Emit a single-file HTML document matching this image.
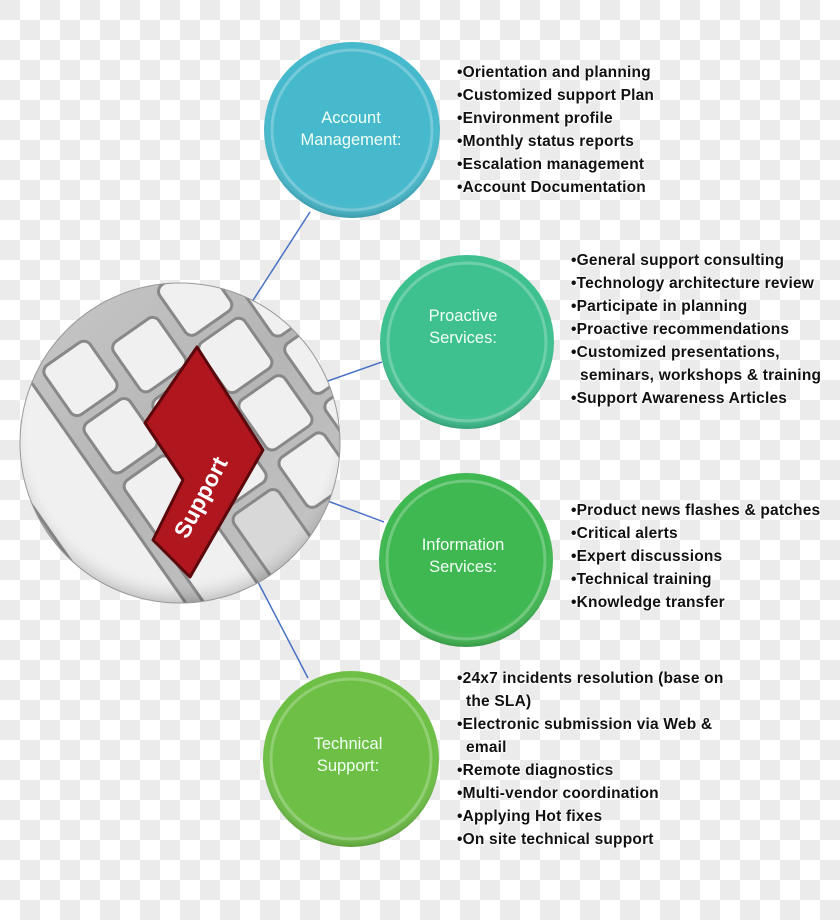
<!DOCTYPE html>
<html><head><meta charset="utf-8"><style>
html,body{margin:0;padding:0}
body{width:840px;height:920px;position:relative;overflow:hidden;
background-color:#fff;
background-image:linear-gradient(45deg,#ebebeb 25%,transparent 25%,transparent 75%,#ebebeb 75%),linear-gradient(45deg,#ebebeb 25%,transparent 25%,transparent 75%,#ebebeb 75%);
background-size:40px 40px;background-position:20px 0,0 20px;
font-family:"Liberation Sans",sans-serif}
.list{position:absolute;font-weight:bold;font-size:15.5px;line-height:23px;color:#111;letter-spacing:0.2px;
text-shadow:0 0 2px #fff,0 0 2px #fff,1px 1px 1px #fff}
.list div{white-space:nowrap}
.lab{position:absolute;color:#f2fff6;font-size:16.5px;line-height:22px;text-align:center;width:180px}
</style></head><body>
<svg width="840" height="920" style="position:absolute;left:0;top:0">
<defs>
<radialGradient id="sh" cx="50%" cy="45%" r="55%"><stop offset="0.85" stop-color="#fff" stop-opacity="0"/><stop offset="1" stop-color="#000" stop-opacity="0.18"/></radialGradient>
<linearGradient id="kb" x1="0" y1="0" x2="1" y2="1"><stop offset="0" stop-color="#c8c8c8"/><stop offset="0.5" stop-color="#b5b5b5"/><stop offset="1" stop-color="#c8c8c8"/></linearGradient>
<clipPath id="cc"><circle cx="180" cy="443" r="160"/></clipPath>
</defs>
<g stroke="#4a72c4" stroke-width="1.5">
<line x1="250" y1="305" x2="310" y2="212"/>
<line x1="325" y1="382" x2="382" y2="362"/>
<line x1="325" y1="500" x2="384" y2="522"/>
<line x1="258" y1="582" x2="308" y2="678"/>
</g>
<circle cx="180" cy="443" r="160" fill="url(#kb)"/>
<g clip-path="url(#cc)">
<g transform="rotate(55 180 443)">
<g fill="#f0f0f0" stroke="#888" stroke-width="3">
<rect x="20" y="250" width="60" height="55" rx="8"/>
<rect x="90" y="250" width="60" height="55" rx="8"/>
<rect x="160" y="250" width="60" height="55" rx="8"/>
<rect x="230" y="250" width="60" height="55" rx="8"/>
<rect x="300" y="250" width="60" height="55" rx="8"/>
<rect x="40" y="320" width="60" height="55" rx="8"/>
<rect x="110" y="320" width="60" height="55" rx="8"/>
<rect x="180" y="320" width="60" height="55" rx="8"/>
<rect x="250" y="320" width="60" height="55" rx="8"/>
<rect x="60" y="390" width="60" height="55" rx="8"/>
<rect x="130" y="390" width="60" height="55" rx="8"/>
<rect x="200" y="390" width="60" height="55" rx="8"/>
<rect x="40" y="460" width="60" height="55" rx="8"/>
<rect x="110" y="460" width="60" height="55" rx="8"/>
<rect x="180" y="460" width="200" height="55" rx="8"/>
<rect x="40" y="530" width="300" height="70" rx="8"/>
<rect x="270" y="390" width="140" height="55" rx="8" fill="#d8d8d8"/>
</g>
</g>
<polygon points="145,423 197,347 263,450 190,577 153,540 183,480" fill="#b0161e" stroke="#5a080c" stroke-width="3" stroke-linejoin="round"/>
<text x="0" y="0" transform="translate(187 540) rotate(-62)" font-family="Liberation Sans" font-weight="bold" font-size="23" fill="#fff">Support</text>
</g>
<circle cx="180" cy="443" r="160" fill="url(#sh)" stroke="#999" stroke-width="1"/>
<g>
<circle cx="352" cy="130" r="88" fill="#46b9cc"/><circle cx="352" cy="130" r="80" fill="none" stroke="#fff" stroke-opacity="0.25" stroke-width="3"/><circle cx="352" cy="130" r="88" fill="url(#sh)"/>
<circle cx="467" cy="342" r="87" fill="#3ec18f"/><circle cx="467" cy="342" r="79" fill="none" stroke="#fff" stroke-opacity="0.25" stroke-width="3"/><circle cx="467" cy="342" r="87" fill="url(#sh)"/>
<circle cx="466" cy="560" r="87" fill="#40b852"/><circle cx="466" cy="560" r="79" fill="none" stroke="#fff" stroke-opacity="0.25" stroke-width="3"/><circle cx="466" cy="560" r="87" fill="url(#sh)"/>
<circle cx="351" cy="759" r="88" fill="#6dbf45"/><circle cx="351" cy="759" r="80" fill="none" stroke="#fff" stroke-opacity="0.25" stroke-width="3"/><circle cx="351" cy="759" r="88" fill="url(#sh)"/>
</g>
</svg>
<div class="lab" style="left:261px;top:107px">Account<br>Management:</div>
<div class="lab" style="left:373px;top:305px">Proactive<br>Services:</div>
<div class="lab" style="left:373px;top:534px">Information<br>Services:</div>
<div class="lab" style="left:258px;top:733px">Technical<br>Support:</div>

<div class="list" style="left:457px;top:61px">
<div>•Orientation and planning</div><div>•Customized support Plan</div><div>•Environment profile</div><div>•Monthly status reports</div><div>•Escalation management</div><div>•Account Documentation</div></div>
<div class="list" style="left:571px;top:249px">
<div>•General support consulting</div><div>•Technology architecture review</div><div>•Participate in planning</div><div>•Proactive recommendations</div><div>•Customized presentations,</div><div>&nbsp;&nbsp;seminars, workshops &amp; training</div><div>•Support Awareness Articles</div></div>
<div class="list" style="left:571px;top:499px">
<div>•Product news flashes &amp; patches</div><div>•Critical alerts</div><div>•Expert discussions</div><div>•Technical training</div><div>•Knowledge transfer</div></div>
<div class="list" style="left:457px;top:667px">
<div>•24x7 incidents resolution (base on</div><div>&nbsp;&nbsp;the SLA)</div><div>•Electronic submission via Web &amp;</div><div>&nbsp;&nbsp;email</div><div>•Remote diagnostics</div><div>•Multi-vendor coordination</div><div>•Applying Hot fixes</div><div>•On site technical support</div></div>
</body></html>
